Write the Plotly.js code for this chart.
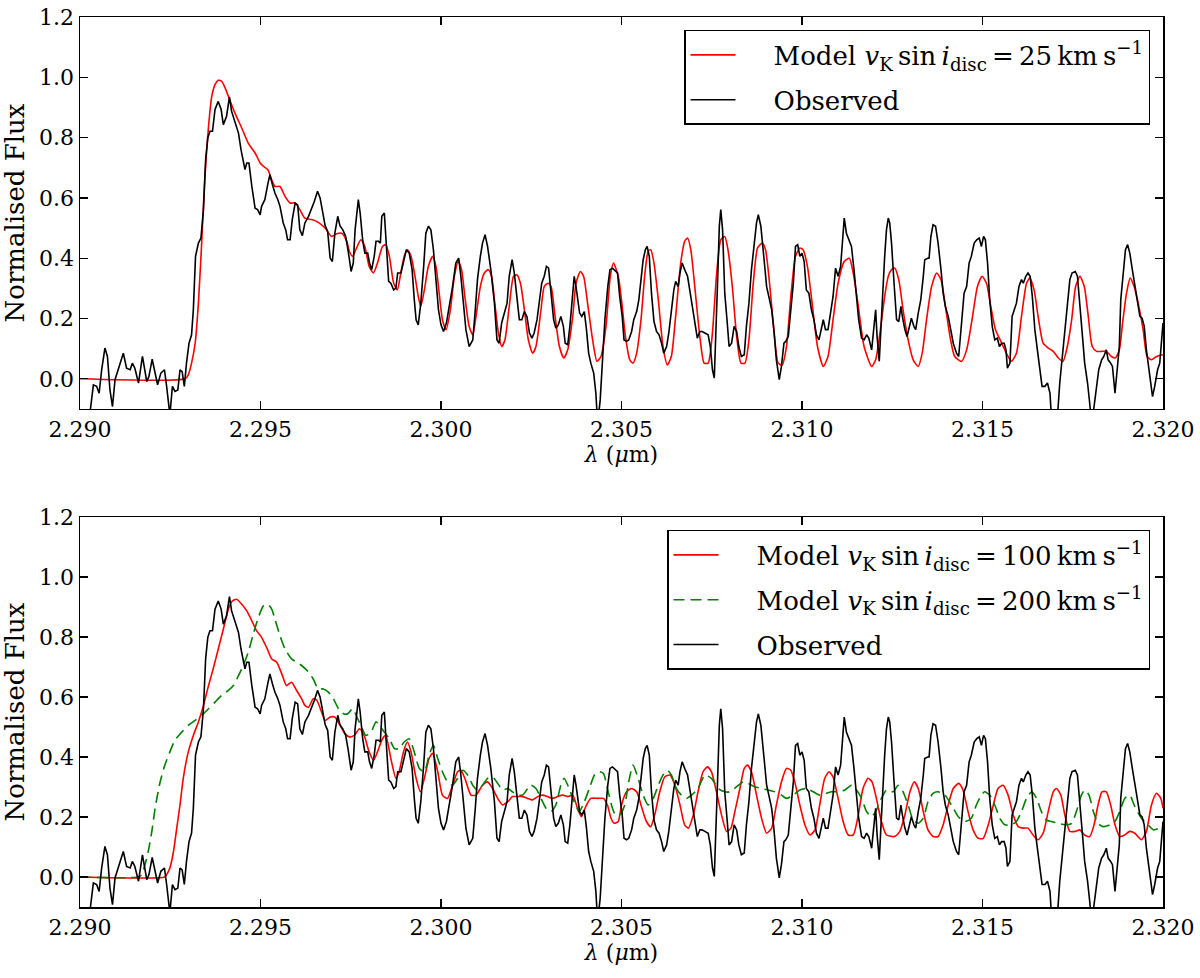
<!DOCTYPE html>
<html>
<head>
<meta charset="utf-8">
<script src="https://cdn.plot.ly/plotly-3.0.1.min.js"></script>
<style>
  html, body { margin: 0; padding: 0; background: #fff; }
  #chart { width: 1200px; height: 978px; }
</style>
</head>
<body>
<div id="chart"></div>
<script>
// ── Data (wavelength in um, normalised flux) ─────────────────────────────────
// Observed spectrum (same in both panels)
const lamObs = [
  2.29022, 2.29028, 2.29037, 2.29046, 2.29053, 2.29060, 2.29069, 2.29076, 2.29083, 2.29090,
  2.29097, 2.29106, 2.29120, 2.29129, 2.29139, 2.29145, 2.29152, 2.29162, 2.29173, 2.29185,
  2.29191, 2.29200, 2.29208, 2.29215, 2.29224, 2.29234, 2.29240, 2.29249, 2.29256, 2.29263,
  2.29271, 2.29277, 2.29283, 2.29289, 2.29295, 2.29302, 2.29309, 2.29314, 2.29320, 2.29328,
  2.29335, 2.29342, 2.29348, 2.29354, 2.29360, 2.29367, 2.29374, 2.29383, 2.29391, 2.29397,
  2.29406, 2.29414, 2.29420, 2.29428, 2.29439, 2.29446, 2.29452, 2.29457, 2.29462, 2.29468,
  2.29476, 2.29485, 2.29492, 2.29499, 2.29503, 2.29512, 2.29520, 2.29526, 2.29533, 2.29540,
  2.29548, 2.29554, 2.29563, 2.29570, 2.29575, 2.29582, 2.29588, 2.29596, 2.29603, 2.29609,
  2.29616, 2.29623, 2.29633, 2.29642, 2.29649, 2.29658, 2.29665, 2.29671, 2.29679, 2.29686,
  2.29693, 2.29699, 2.29706, 2.29714, 2.29720, 2.29728, 2.29736, 2.29743, 2.29751, 2.29757,
  2.29762, 2.29771, 2.29776, 2.29783, 2.29789, 2.29797, 2.29802, 2.29808, 2.29815, 2.29820,
  2.29827, 2.29832, 2.29836, 2.29843, 2.29848, 2.29855, 2.29861, 2.29869, 2.29875, 2.29880,
  2.29889, 2.29896, 2.29904, 2.29912, 2.29920, 2.29926, 2.29931, 2.29937, 2.29944, 2.29952,
  2.29958, 2.29965, 2.29972, 2.29979, 2.29986, 2.29993, 2.30000, 2.30007, 2.30015, 2.30023,
  2.30032, 2.30041, 2.30049, 2.30055, 2.30062, 2.30069, 2.30078, 2.30088, 2.30095, 2.30101,
  2.30109, 2.30115, 2.30122, 2.30129, 2.30138, 2.30148, 2.30155, 2.30161, 2.30168, 2.30173,
  2.30183, 2.30189, 2.30197, 2.30203, 2.30210, 2.30217, 2.30224, 2.30231, 2.30238, 2.30245,
  2.30252, 2.30258, 2.30266, 2.30272, 2.30279, 2.30286, 2.30292, 2.30298, 2.30305, 2.30312,
  2.30318, 2.30325, 2.30332, 2.30339, 2.30344, 2.30351, 2.30357, 2.30363, 2.30369, 2.30374,
  2.30378, 2.30384, 2.30390, 2.30397, 2.30403, 2.30409, 2.30415, 2.30423, 2.30429, 2.30434,
  2.30441, 2.30448, 2.30454, 2.30462, 2.30468, 2.30475, 2.30489, 2.30495, 2.30502, 2.30507,
  2.30514, 2.30520, 2.30528, 2.30534, 2.30542, 2.30548, 2.30554, 2.30560, 2.30566, 2.30571,
  2.30577, 2.30583, 2.30590, 2.30597, 2.30604, 2.30611, 2.30617, 2.30625, 2.30631, 2.30638,
  2.30645, 2.30650, 2.30657, 2.30662, 2.30668, 2.30675, 2.30683, 2.30689, 2.30696, 2.30703,
  2.30710, 2.30717, 2.30723, 2.30731, 2.30740, 2.30746, 2.30752, 2.30757, 2.30761, 2.30766,
  2.30771, 2.30775, 2.30780, 2.30786, 2.30793, 2.30798, 2.30805, 2.30812, 2.30819, 2.30825,
  2.30832, 2.30840, 2.30846, 2.30853, 2.30860, 2.30868, 2.30874, 2.30879, 2.30886, 2.30895,
  2.30902, 2.30909, 2.30916, 2.30922, 2.30929, 2.30937, 2.30943, 2.30950, 2.30955, 2.30962,
  2.30968, 2.30976, 2.30982, 2.30988, 2.30994, 2.31000, 2.31006, 2.31012, 2.31019, 2.31026,
  2.31033, 2.31040, 2.31047, 2.31054, 2.31059, 2.31065, 2.31072, 2.31079, 2.31086, 2.31093,
  2.31100, 2.31107, 2.31112, 2.31117, 2.31123, 2.31131, 2.31137, 2.31144, 2.31151, 2.31157,
  2.31165, 2.31172, 2.31179, 2.31185, 2.31193, 2.31199, 2.31204, 2.31208, 2.31214, 2.31218,
  2.31223, 2.31229, 2.31234, 2.31239, 2.31243, 2.31248, 2.31255, 2.31262, 2.31268, 2.31274,
  2.31278, 2.31285, 2.31291, 2.31297, 2.31303, 2.31310, 2.31315, 2.31322, 2.31329, 2.31336,
  2.31340, 2.31348, 2.31352, 2.31357, 2.31363, 2.31370, 2.31377, 2.31385, 2.31391, 2.31397,
  2.31405, 2.31412, 2.31419, 2.31428, 2.31434, 2.31442, 2.31449, 2.31456, 2.31463, 2.31469,
  2.31477, 2.31484, 2.31491, 2.31497, 2.31503, 2.31508, 2.31514, 2.31520, 2.31527, 2.31534,
  2.31541, 2.31547, 2.31553, 2.31560, 2.31565, 2.31569, 2.31576, 2.31582, 2.31588, 2.31594,
  2.31601, 2.31608, 2.31613, 2.31620, 2.31626, 2.31632, 2.31638, 2.31645, 2.31652, 2.31659,
  2.31665, 2.31673, 2.31680, 2.31687, 2.31691, 2.31699, 2.31708, 2.31714, 2.31722, 2.31728,
  2.31735, 2.31742, 2.31748, 2.31757, 2.31763, 2.31770, 2.31777, 2.31783, 2.31791, 2.31797,
  2.31802, 2.31809, 2.31816, 2.31822, 2.31830, 2.31836, 2.31843, 2.31848, 2.31855, 2.31860,
  2.31867, 2.31873, 2.31879, 2.31883, 2.31890, 2.31896, 2.31902, 2.31908, 2.31915, 2.31922,
  2.31929, 2.31936, 2.31942, 2.31948, 2.31954, 2.31961, 2.31966, 2.31971, 2.31977, 2.31985,
  2.31991, 2.31998, 2.32000
];
const fluxObs = [
  -0.130, -0.110, -0.020, -0.025, -0.048, 0.030, 0.102, 0.074, -0.037, -0.092,
  -0.003, 0.030, 0.085, 0.035, 0.030, 0.052, 0.035, -0.014, 0.074, -0.009,
  0.008, 0.065, 0.019, -0.020, 0.019, 0.030, -0.025, -0.120, -0.025, -0.042,
  -0.037, 0.030, 0.024, -0.025, 0.052, 0.118, 0.146, 0.229, 0.406, 0.450,
  0.467, 0.561, 0.727, 0.799, 0.821, 0.821, 0.893, 0.920, 0.893, 0.843,
  0.871, 0.935, 0.887, 0.854, 0.815, 0.760, 0.716, 0.694, 0.716, 0.716,
  0.638, 0.566, 0.561, 0.544, 0.572, 0.594, 0.644, 0.677, 0.644, 0.616,
  0.594, 0.572, 0.517, 0.494, 0.461, 0.461, 0.528, 0.583, 0.577, 0.494,
  0.475, 0.517, 0.539, 0.566, 0.588, 0.622, 0.600, 0.561, 0.508, 0.489,
  0.400, 0.389, 0.483, 0.539, 0.508, 0.494, 0.472, 0.423, 0.356, 0.384,
  0.494, 0.594, 0.550, 0.461, 0.417, 0.417, 0.384, 0.362, 0.406, 0.456,
  0.456, 0.450, 0.539, 0.550, 0.450, 0.323, 0.317, 0.295, 0.301, 0.351,
  0.351, 0.384, 0.428, 0.417, 0.362, 0.262, 0.196, 0.179, 0.251, 0.373,
  0.483, 0.506, 0.494, 0.428, 0.317, 0.229, 0.179, 0.157, 0.185, 0.240,
  0.306, 0.384, 0.400, 0.340, 0.251, 0.163, 0.107, 0.129, 0.229, 0.329,
  0.406, 0.450, 0.478, 0.439, 0.362, 0.251, 0.129, 0.118, 0.185, 0.207,
  0.251, 0.340, 0.395, 0.351, 0.262, 0.196, 0.196, 0.223, 0.207, 0.152,
  0.135, 0.152, 0.196, 0.262, 0.317, 0.340, 0.373, 0.367, 0.284, 0.196,
  0.168, 0.179, 0.207, 0.174, 0.118, 0.113, 0.174, 0.251, 0.340, 0.306,
  0.273, 0.218, 0.207, 0.223, 0.163, 0.085, 0.052, 0.019, -0.048, -0.150,
  -0.070, 0.063, 0.196, 0.306, 0.362, 0.367, 0.351, 0.273, 0.207, 0.129,
  0.124, 0.129, 0.157, 0.196, 0.223, 0.262, 0.340, 0.395, 0.428, 0.439,
  0.406, 0.284, 0.190, 0.157, 0.146, 0.118, 0.085, 0.107, 0.152, 0.229,
  0.295, 0.323, 0.306, 0.351, 0.384, 0.362, 0.340, 0.295, 0.240, 0.179,
  0.135, 0.157, 0.157, 0.152, 0.146, 0.107, 0.030, 0.002, 0.118, 0.317,
  0.506, 0.561, 0.494, 0.284, 0.185, 0.107, 0.118, 0.174, 0.157, 0.107,
  0.074, 0.080, 0.174, 0.251, 0.362, 0.450, 0.517, 0.544, 0.506, 0.395,
  0.306, 0.268, 0.229, 0.163, 0.063, -0.003, 0.041, 0.118, 0.124, 0.140,
  0.207, 0.317, 0.439, 0.445, 0.406, 0.417, 0.389, 0.295, 0.284, 0.229,
  0.196, 0.146, 0.129, 0.174, 0.196, 0.163, 0.163, 0.218, 0.273, 0.367,
  0.340, 0.373, 0.467, 0.533, 0.483, 0.461, 0.439, 0.362, 0.262, 0.196,
  0.135, 0.129, 0.146, 0.135, 0.096, 0.163, 0.229, 0.140, 0.058, 0.152,
  0.284, 0.406, 0.494, 0.533, 0.517, 0.450, 0.317, 0.196, 0.190, 0.240,
  0.207, 0.163, 0.140, 0.174, 0.201, 0.174, 0.163, 0.218, 0.262, 0.340,
  0.395, 0.400, 0.400, 0.472, 0.511, 0.506, 0.450, 0.362, 0.284, 0.240,
  0.207, 0.163, 0.118, 0.085, 0.074, 0.185, 0.284, 0.306, 0.384, 0.406,
  0.450, 0.461, 0.467, 0.439, 0.472, 0.461, 0.384, 0.262, 0.174, 0.129,
  0.135, 0.107, 0.118, 0.118, 0.096, 0.035, 0.052, 0.207, 0.229, 0.251,
  0.306, 0.329, 0.317, 0.340, 0.351, 0.340, 0.273, 0.163, 0.096, 0.030,
  -0.025, -0.025, -0.014, -0.048, -0.130, -0.170, -0.120, -0.014, 0.085, 0.174,
  0.251, 0.329, 0.351, 0.356, 0.340, 0.251, 0.140, 0.052, -0.014, -0.081,
  -0.150, -0.092, -0.014, 0.030, 0.063, 0.074, 0.096, 0.063, 0.052, 0.041,
  -0.048, 0.019, 0.107, 0.262, 0.362, 0.428, 0.445, 0.417, 0.362, 0.306,
  0.251, 0.207, 0.201, 0.174, 0.096, 0.030, -0.014, -0.059, -0.025, 0.030,
  0.052, 0.163, 0.185
];

// Model, v_K sin i_disc = 25 km/s (top panel)
const lamM25 = [
  2.29000, 2.29291, 2.29300, 2.29309, 2.29319, 2.29328, 2.29337, 2.29346, 2.29356, 2.29365,
  2.29374, 2.29383, 2.29392, 2.29402, 2.29411, 2.29429, 2.29448, 2.29466, 2.29485, 2.29499,
  2.29508, 2.29520, 2.29531, 2.29540, 2.29554, 2.29568, 2.29582, 2.29596, 2.29609, 2.29623,
  2.29642, 2.29660, 2.29679, 2.29697, 2.29711, 2.29725, 2.29739, 2.29746, 2.29755, 2.29764,
  2.29778, 2.29789, 2.29801, 2.29813, 2.29824, 2.29838, 2.29847, 2.29857, 2.29869, 2.29879,
  2.29887, 2.29898, 2.29907, 2.29917, 2.29928, 2.29937, 2.29944, 2.29954, 2.29965, 2.29977,
  2.29986, 2.29995, 2.30004, 2.30014, 2.30026, 2.30037, 2.30048, 2.30057, 2.30066, 2.30078,
  2.30088, 2.30097, 2.30109, 2.30120, 2.30131, 2.30140, 2.30149, 2.30159, 2.30168, 2.30177,
  2.30189, 2.30201, 2.30210, 2.30220, 2.30231, 2.30242, 2.30254, 2.30263, 2.30277, 2.30286,
  2.30297, 2.30305, 2.30316, 2.30328, 2.30340, 2.30351, 2.30365, 2.30374, 2.30386, 2.30395,
  2.30406, 2.30420, 2.30432, 2.30443, 2.30457, 2.30469, 2.30478, 2.30491, 2.30500, 2.30511,
  2.30523, 2.30532, 2.30542, 2.30554, 2.30565, 2.30574, 2.30581, 2.30590, 2.30602, 2.30615,
  2.30627, 2.30638, 2.30650, 2.30664, 2.30675, 2.30683, 2.30692, 2.30703, 2.30717, 2.30729,
  2.30740, 2.30751, 2.30763, 2.30775, 2.30786, 2.30795, 2.30807, 2.30819, 2.30831, 2.30842,
  2.30853, 2.30865, 2.30877, 2.30890, 2.30899, 2.30911, 2.30923, 2.30934, 2.30945, 2.30957,
  2.30969, 2.30982, 2.30994, 2.31003, 2.31015, 2.31028, 2.31043, 2.31059, 2.31072, 2.31086,
  2.31100, 2.31117, 2.31131, 2.31142, 2.31156, 2.31172, 2.31193, 2.31204, 2.31216, 2.31229,
  2.31239, 2.31248, 2.31257, 2.31268, 2.31280, 2.31294, 2.31308, 2.31322, 2.31333, 2.31345,
  2.31359, 2.31373, 2.31385, 2.31396, 2.31410, 2.31423, 2.31442, 2.31456, 2.31471, 2.31486,
  2.31499, 2.31511, 2.31523, 2.31536, 2.31551, 2.31566, 2.31580, 2.31594, 2.31608, 2.31622,
  2.31631, 2.31643, 2.31654, 2.31668, 2.31682, 2.31696, 2.31710, 2.31723, 2.31735, 2.31747,
  2.31758, 2.31770, 2.31782, 2.31793, 2.31804, 2.31816, 2.31830, 2.31843, 2.31857, 2.31868,
  2.31879, 2.31888, 2.31899, 2.31909, 2.31920, 2.31933, 2.31945, 2.31956, 2.31968, 2.31982,
  2.32000
];
const fluxM25 = [
  0.000, 0.000, 0.013, 0.052, 0.118, 0.251, 0.450, 0.671, 0.837, 0.937,
  0.976, 0.990, 0.987, 0.965, 0.937, 0.882, 0.832, 0.782, 0.749, 0.716,
  0.705, 0.694, 0.660, 0.638, 0.638, 0.605, 0.583, 0.583, 0.561, 0.533,
  0.528, 0.519, 0.500, 0.472, 0.481, 0.483, 0.456, 0.423, 0.406, 0.428,
  0.461, 0.439, 0.373, 0.351, 0.384, 0.439, 0.445, 0.406, 0.317, 0.295,
  0.340, 0.406, 0.428, 0.406, 0.340, 0.273, 0.240, 0.295, 0.373, 0.406,
  0.373, 0.284, 0.196, 0.163, 0.229, 0.340, 0.389, 0.362, 0.273, 0.174,
  0.146, 0.207, 0.306, 0.351, 0.362, 0.340, 0.251, 0.152, 0.107, 0.129,
  0.240, 0.340, 0.345, 0.317, 0.229, 0.129, 0.085, 0.107, 0.229, 0.306,
  0.317, 0.306, 0.207, 0.107, 0.069, 0.096, 0.207, 0.317, 0.356, 0.340,
  0.251, 0.129, 0.058, 0.074, 0.174, 0.340, 0.384, 0.340, 0.262, 0.140,
  0.063, 0.052, 0.085, 0.196, 0.351, 0.423, 0.428, 0.384, 0.262, 0.107,
  0.046, 0.074, 0.207, 0.384, 0.456, 0.467, 0.428, 0.306, 0.140, 0.052,
  0.052, 0.140, 0.340, 0.461, 0.472, 0.428, 0.306, 0.140, 0.052, 0.052,
  0.129, 0.317, 0.434, 0.450, 0.428, 0.306, 0.152, 0.052, 0.046, 0.107,
  0.273, 0.406, 0.434, 0.428, 0.373, 0.251, 0.107, 0.041, 0.074, 0.196,
  0.317, 0.389, 0.400, 0.351, 0.240, 0.107, 0.041, 0.063, 0.152, 0.273,
  0.340, 0.362, 0.367, 0.329, 0.229, 0.129, 0.063, 0.041, 0.085, 0.196,
  0.306, 0.351, 0.329, 0.251, 0.140, 0.074, 0.058, 0.096, 0.196, 0.306,
  0.340, 0.317, 0.240, 0.163, 0.124, 0.085, 0.058, 0.085, 0.207, 0.317,
  0.334, 0.295, 0.207, 0.118, 0.102, 0.091, 0.069, 0.058, 0.107, 0.196,
  0.306, 0.340, 0.306, 0.207, 0.107, 0.091, 0.091, 0.091, 0.074, 0.069,
  0.096, 0.185, 0.284, 0.334, 0.306, 0.240, 0.163, 0.074, 0.063, 0.074,
  0.080
];

// Model, v_K sin i_disc = 100 km/s (bottom panel)
const lamM100 = [
  2.29000, 2.29235, 2.29240, 2.29249, 2.29259, 2.29268, 2.29277, 2.29286, 2.29300, 2.29314,
  2.29328, 2.29342, 2.29356, 2.29369, 2.29383, 2.29397, 2.29411, 2.29422, 2.29434, 2.29448,
  2.29462, 2.29476, 2.29489, 2.29503, 2.29517, 2.29531, 2.29545, 2.29559, 2.29572, 2.29586,
  2.29600, 2.29614, 2.29623, 2.29633, 2.29646, 2.29656, 2.29669, 2.29679, 2.29693, 2.29706,
  2.29720, 2.29734, 2.29746, 2.29760, 2.29774, 2.29787, 2.29801, 2.29813, 2.29824, 2.29838,
  2.29847, 2.29861, 2.29875, 2.29884, 2.29896, 2.29907, 2.29917, 2.29931, 2.29943, 2.29954,
  2.29967, 2.29977, 2.29991, 2.30004, 2.30018, 2.30032, 2.30046, 2.30055, 2.30066, 2.30083,
  2.30097, 2.30115, 2.30129, 2.30143, 2.30157, 2.30171, 2.30185, 2.30198, 2.30212, 2.30226,
  2.30240, 2.30254, 2.30268, 2.30281, 2.30295, 2.30309, 2.30323, 2.30337, 2.30351, 2.30365,
  2.30378, 2.30389, 2.30401, 2.30415, 2.30434, 2.30450, 2.30461, 2.30471, 2.30480, 2.30491,
  2.30500, 2.30514, 2.30528, 2.30542, 2.30554, 2.30569, 2.30581, 2.30592, 2.30606, 2.30620,
  2.30634, 2.30648, 2.30662, 2.30675, 2.30685, 2.30699, 2.30712, 2.30726, 2.30738, 2.30749,
  2.30763, 2.30777, 2.30791, 2.30803, 2.30814, 2.30828, 2.30840, 2.30849, 2.30860, 2.30874,
  2.30888, 2.30902, 2.30916, 2.30929, 2.30943, 2.30957, 2.30969, 2.30980, 2.30994, 2.31008,
  2.31022, 2.31036, 2.31049, 2.31063, 2.31075, 2.31086, 2.31100, 2.31114, 2.31128, 2.31142,
  2.31156, 2.31169, 2.31183, 2.31194, 2.31206, 2.31220, 2.31234, 2.31257, 2.31271, 2.31285,
  2.31299, 2.31311, 2.31322, 2.31336, 2.31349, 2.31363, 2.31377, 2.31391, 2.31405, 2.31419,
  2.31434, 2.31446, 2.31460, 2.31474, 2.31488, 2.31502, 2.31516, 2.31530, 2.31543, 2.31557,
  2.31571, 2.31585, 2.31599, 2.31613, 2.31626, 2.31640, 2.31654, 2.31668, 2.31682, 2.31696,
  2.31705, 2.31717, 2.31728, 2.31742, 2.31757, 2.31770, 2.31783, 2.31797, 2.31809, 2.31820,
  2.31831, 2.31843, 2.31855, 2.31867, 2.31880, 2.31894, 2.31908, 2.31922, 2.31940, 2.31954,
  2.31968, 2.31982, 2.31994, 2.32000
];
const fluxM100 = [
  0.000, 0.000, 0.008, 0.030, 0.085, 0.163, 0.240, 0.329, 0.417, 0.472,
  0.517, 0.572, 0.638, 0.694, 0.760, 0.826, 0.893, 0.920, 0.926, 0.909,
  0.887, 0.854, 0.821, 0.799, 0.765, 0.727, 0.716, 0.677, 0.638, 0.649,
  0.622, 0.594, 0.572, 0.566, 0.594, 0.589, 0.550, 0.522, 0.533, 0.533,
  0.506, 0.478, 0.467, 0.472, 0.494, 0.472, 0.417, 0.389, 0.417, 0.461,
  0.472, 0.395, 0.329, 0.351, 0.417, 0.450, 0.417, 0.329, 0.284, 0.329,
  0.395, 0.412, 0.351, 0.273, 0.262, 0.306, 0.351, 0.356, 0.329, 0.273,
  0.273, 0.306, 0.317, 0.295, 0.262, 0.240, 0.251, 0.268, 0.268, 0.268,
  0.262, 0.257, 0.268, 0.273, 0.268, 0.262, 0.268, 0.273, 0.268, 0.273,
  0.229, 0.201, 0.235, 0.262, 0.262, 0.262, 0.240, 0.196, 0.179, 0.185,
  0.240, 0.284, 0.295, 0.284, 0.240, 0.185, 0.168, 0.207, 0.284, 0.334,
  0.340, 0.306, 0.240, 0.174, 0.163, 0.207, 0.284, 0.351, 0.367, 0.351,
  0.284, 0.207, 0.152, 0.163, 0.218, 0.295, 0.362, 0.373, 0.351, 0.273,
  0.196, 0.146, 0.163, 0.240, 0.317, 0.362, 0.356, 0.317, 0.240, 0.174,
  0.140, 0.157, 0.240, 0.329, 0.351, 0.334, 0.262, 0.185, 0.140, 0.140,
  0.207, 0.295, 0.329, 0.317, 0.262, 0.185, 0.140, 0.135, 0.152, 0.207,
  0.284, 0.317, 0.295, 0.218, 0.157, 0.135, 0.135, 0.174, 0.240, 0.295,
  0.312, 0.290, 0.218, 0.157, 0.129, 0.129, 0.174, 0.240, 0.295, 0.306,
  0.273, 0.207, 0.168, 0.163, 0.163, 0.140, 0.124, 0.146, 0.218, 0.284,
  0.295, 0.273, 0.207, 0.152, 0.152, 0.157, 0.140, 0.135, 0.174, 0.240,
  0.284, 0.284, 0.240, 0.174, 0.135, 0.140, 0.152, 0.146, 0.124, 0.152,
  0.240, 0.279, 0.262, 0.229
];

// Model, v_K sin i_disc = 200 km/s (bottom panel)
const lamM200 = [
  2.29000, 2.29162, 2.29171, 2.29180, 2.29189, 2.29199, 2.29208, 2.29222, 2.29235, 2.29249,
  2.29263, 2.29282, 2.29300, 2.29319, 2.29337, 2.29356, 2.29374, 2.29392, 2.29411, 2.29425,
  2.29439, 2.29452, 2.29466, 2.29480, 2.29494, 2.29508, 2.29520, 2.29531, 2.29540, 2.29554,
  2.29568, 2.29586, 2.29600, 2.29614, 2.29633, 2.29646, 2.29660, 2.29674, 2.29688, 2.29702,
  2.29716, 2.29730, 2.29742, 2.29755, 2.29769, 2.29778, 2.29792, 2.29806, 2.29820, 2.29829,
  2.29843, 2.29857, 2.29871, 2.29884, 2.29898, 2.29912, 2.29926, 2.29940, 2.29954, 2.29967,
  2.29979, 2.29991, 2.30004, 2.30018, 2.30032, 2.30046, 2.30060, 2.30074, 2.30088, 2.30101,
  2.30115, 2.30129, 2.30143, 2.30157, 2.30171, 2.30185, 2.30198, 2.30212, 2.30226, 2.30240,
  2.30249, 2.30263, 2.30277, 2.30291, 2.30305, 2.30318, 2.30332, 2.30341, 2.30355, 2.30369,
  2.30383, 2.30397, 2.30411, 2.30425, 2.30438, 2.30450, 2.30461, 2.30475, 2.30481, 2.30495,
  2.30509, 2.30520, 2.30532, 2.30546, 2.30560, 2.30574, 2.30588, 2.30602, 2.30615, 2.30627,
  2.30638, 2.30652, 2.30666, 2.30680, 2.30694, 2.30712, 2.30731, 2.30749, 2.30768, 2.30786,
  2.30800, 2.30819, 2.30837, 2.30851, 2.30869, 2.30888, 2.30906, 2.30925, 2.30943, 2.30957,
  2.30976, 2.30994, 2.31012, 2.31031, 2.31049, 2.31068, 2.31082, 2.31100, 2.31119, 2.31137,
  2.31151, 2.31165, 2.31179, 2.31193, 2.31206, 2.31220, 2.31234, 2.31253, 2.31266, 2.31280,
  2.31294, 2.31308, 2.31322, 2.31336, 2.31349, 2.31363, 2.31377, 2.31396, 2.31414, 2.31433,
  2.31451, 2.31469, 2.31483, 2.31497, 2.31506, 2.31520, 2.31534, 2.31548, 2.31562, 2.31580,
  2.31594, 2.31608, 2.31622, 2.31636, 2.31650, 2.31663, 2.31677, 2.31691, 2.31710, 2.31728,
  2.31747, 2.31760, 2.31774, 2.31783, 2.31795, 2.31807, 2.31820, 2.31834, 2.31853, 2.31867,
  2.31880, 2.31894, 2.31908, 2.31920, 2.31940, 2.31959, 2.31974, 2.31991, 2.32000
];
const fluxM200 = [
  0.000, 0.000, 0.008, 0.041, 0.085, 0.152, 0.229, 0.317, 0.373, 0.417,
  0.456, 0.483, 0.506, 0.522, 0.539, 0.561, 0.583, 0.605, 0.622, 0.638,
  0.671, 0.705, 0.749, 0.810, 0.865, 0.904, 0.909, 0.893, 0.860, 0.804,
  0.760, 0.727, 0.716, 0.705, 0.683, 0.660, 0.627, 0.627, 0.616, 0.594,
  0.561, 0.544, 0.544, 0.561, 0.528, 0.506, 0.472, 0.483, 0.517, 0.506,
  0.483, 0.461, 0.428, 0.428, 0.450, 0.461, 0.417, 0.362, 0.351, 0.406,
  0.439, 0.395, 0.351, 0.317, 0.306, 0.329, 0.356, 0.340, 0.306, 0.290,
  0.306, 0.329, 0.334, 0.312, 0.290, 0.295, 0.284, 0.273, 0.273, 0.295,
  0.306, 0.295, 0.262, 0.229, 0.218, 0.240, 0.306, 0.329, 0.295, 0.251,
  0.218, 0.251, 0.295, 0.340, 0.351, 0.345, 0.295, 0.229, 0.212, 0.207,
  0.240, 0.317, 0.373, 0.329, 0.273, 0.240, 0.262, 0.306, 0.340, 0.356,
  0.340, 0.295, 0.273, 0.262, 0.273, 0.295, 0.340, 0.329, 0.295, 0.284,
  0.284, 0.301, 0.317, 0.312, 0.301, 0.295, 0.290, 0.284, 0.273, 0.262,
  0.273, 0.290, 0.295, 0.284, 0.273, 0.279, 0.284, 0.284, 0.290, 0.306,
  0.290, 0.262, 0.218, 0.201, 0.223, 0.262, 0.290, 0.284, 0.306, 0.284,
  0.240, 0.190, 0.179, 0.196, 0.251, 0.279, 0.284, 0.273, 0.240, 0.201,
  0.185, 0.196, 0.240, 0.273, 0.284, 0.273, 0.240, 0.196, 0.174, 0.174,
  0.185, 0.218, 0.262, 0.284, 0.262, 0.218, 0.190, 0.185, 0.179, 0.174,
  0.179, 0.218, 0.273, 0.290, 0.273, 0.218, 0.179, 0.168, 0.174, 0.185,
  0.218, 0.262, 0.273, 0.240, 0.196, 0.174, 0.157, 0.163, 0.168
];

// ── Style ────────────────────────────────────────────────────────────────────
const FONT = 'DejaVu Serif, DejaVu Sans, sans-serif';
const RED = '#ff0000';
const GREEN = '#008000';
const BLACK = '#000000';
const NB = '\u00a0\u00a0\u00a0\u00a0';   // padding between legend line and text

function legendName(speed) {
  return NB + 'Model <i>v</i><sub>K</sub>\u2009sin\u2009<i>i</i><sub>disc</sub>\u2009=\u2009' +
    speed + '\u2009km\u2009s<sup>\u22121</sup>';
}

const traces = [
  // top panel
  { x: lamM25, y: fluxM25, xaxis: 'x', yaxis: 'y', type: 'scatter', mode: 'lines',
    name: legendName(25), legend: 'legend', legendgroup: 'a',
    line: { color: RED, width: 1.6, shape: 'spline', smoothing: 0.6 } },
  { x: lamObs, y: fluxObs, xaxis: 'x', yaxis: 'y', type: 'scatter', mode: 'lines',
    name: NB + 'Observed', legend: 'legend', legendgroup: 'b',
    line: { color: BLACK, width: 1.6 } },
  // bottom panel
  { x: lamM100, y: fluxM100, xaxis: 'x2', yaxis: 'y2', type: 'scatter', mode: 'lines',
    name: legendName(100), legend: 'legend2', legendgroup: 'c',
    line: { color: RED, width: 1.6, shape: 'spline', smoothing: 0.6 } },
  { x: lamM200, y: fluxM200, xaxis: 'x2', yaxis: 'y2', type: 'scatter', mode: 'lines',
    name: legendName(200), legend: 'legend2', legendgroup: 'd',
    line: { color: GREEN, width: 1.6, dash: '11px,6px', shape: 'spline', smoothing: 0.6 } },
  { x: lamObs, y: fluxObs, xaxis: 'x2', yaxis: 'y2', type: 'scatter', mode: 'lines',
    name: NB + 'Observed', legend: 'legend2', legendgroup: 'e',
    line: { color: BLACK, width: 1.6 } },
];

const axisBase = {
  showline: true, linecolor: BLACK, linewidth: 1.5, mirror: 'allticks',
  ticks: 'inside', ticklen: 8, tickwidth: 1.2, tickcolor: BLACK,
  showgrid: false, zeroline: false, fixedrange: true,
  tickfont: { family: FONT, size: 22, color: BLACK },
};

function xAxis(anchor) {
  return Object.assign({}, axisBase, {
    anchor: anchor, domain: [0, 1],
    range: [2.290, 2.320], tick0: 2.290, dtick: 0.005, tickformat: '.3f',
    title: { text: '<i>λ</i> (<i>μ</i>m)', standoff: 3, font: { family: FONT, size: 22, color: BLACK } },
  });
}
function yAxis(anchor, domain) {
  return Object.assign({}, axisBase, {
    anchor: anchor, domain: domain,
    range: [-0.1, 1.2], tick0: 0, dtick: 0.2, tickformat: '.1f',
    title: { text: 'Normalised Flux', standoff: 14, font: { family: FONT, size: 26, color: BLACK } },
  });
}

const legendBase = {
  xref: 'paper', yref: 'paper', xanchor: 'right', yanchor: 'top',
  bgcolor: '#ffffff', bordercolor: BLACK, borderwidth: 1.5,
  font: { family: FONT, size: 26, color: BLACK },
  itemwidth: 45, tracegroupgap: 8,
};

const layout = {
  width: 1200, height: 978,
  paper_bgcolor: '#ffffff', plot_bgcolor: '#ffffff',
  font: { family: FONT, color: BLACK },
  margin: { l: 80, r: 37, t: 17, b: 71, pad: 0 },
  showlegend: true,
  xaxis: xAxis('y'),
  yaxis: yAxis('x', [0.5596, 1]),
  xaxis2: xAxis('y2'),
  yaxis2: yAxis('x2', [0, 0.4382]),
  legend: Object.assign({}, legendBase, { x: 0.988, y: 0.9854 }),
  legend2: Object.assign({}, legendBase, { x: 0.988, y: 0.4236 }),
};

Plotly.newPlot('chart', traces, layout, { displayModeBar: false, staticPlot: true });
</script>
</body>
</html>
